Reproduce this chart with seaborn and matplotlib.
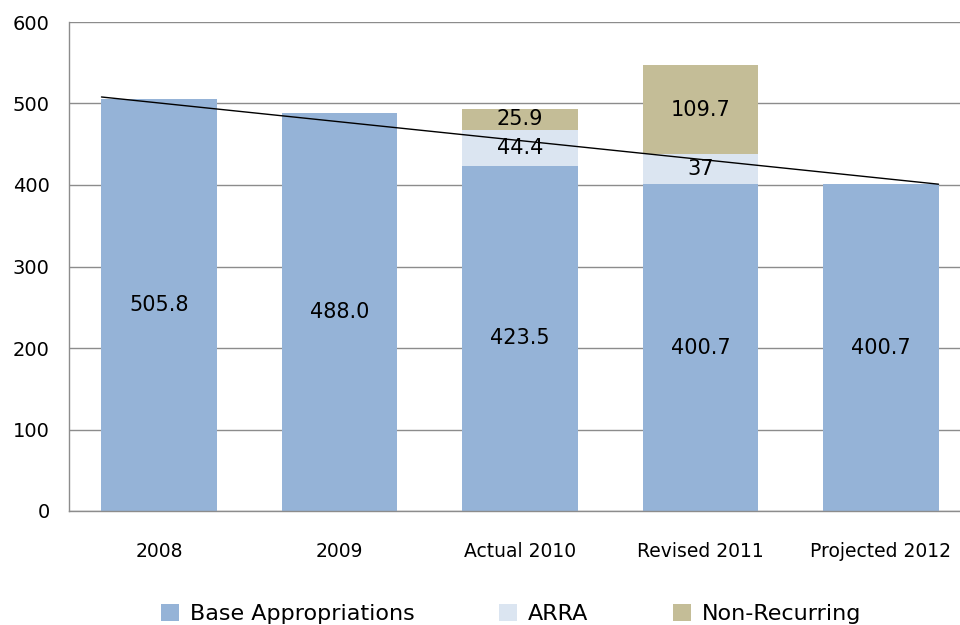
import matplotlib
matplotlib.use("Agg")
import matplotlib.pyplot as plt
import seaborn as sns
import pandas as pd
from matplotlib.patches import Patch
from matplotlib.ticker import FixedLocator

categories = ["2008", "2009", "Actual 2010", "Revised 2011", "Projected 2012"]
base = [505.8, 488.0, 423.5, 400.7, 400.7]
arra = [0, 0, 44.4, 37, 0]
nonrec = [0, 0, 25.9, 109.7, 0]
base_labels = ["505.8", "488.0", "423.5", "400.7", "400.7"]
arra_labels = ["", "", "44.4", "37", ""]
nonrec_labels = ["", "", "25.9", "109.7", ""]
trend_start, trend_end = 508, 401
series_names = ["Base Appropriations", "ARRA", "Non-Recurring"]
colors = ["#95B3D7", "#DBE5F1", "#C4BD97"]

sns.set_style("white")
plt.rcParams['font.family'] = ['DejaVu Sans']
plt.rcParams['text.color'] = 'black'
plt.rcParams['xtick.color'] = 'black'
plt.rcParams['ytick.color'] = 'black'

fig = plt.figure(figsize=(9.6, 6.25), dpi=100)
ax = fig.add_axes([69/960, 114/625, 902/960, 489/625])

df = pd.DataFrame({"cat": categories, "base": base, "arra": arra, "nonrec": nonrec})
df["b2"] = df["base"] + df["arra"]

w = 0.64
sns.barplot(data=df, x="cat", y="base", color=colors[0], width=w, ax=ax,
            saturation=1, linewidth=0, zorder=2)
sns.barplot(data=df, x="cat", y="arra", bottom=df["base"], color=colors[1], width=w,
            ax=ax, saturation=1, linewidth=0, zorder=2)
sns.barplot(data=df, x="cat", y="nonrec", bottom=df["b2"], color=colors[2], width=w,
            ax=ax, saturation=1, linewidth=0, zorder=2)

fs = 15
for i in range(len(categories)):
    ax.text(i, base[i] / 2, base_labels[i], ha="center", va="center", fontsize=fs,
            color="black", zorder=4)
    if arra[i]:
        ax.text(i, base[i] + arra[i] / 2, arra_labels[i], ha="center", va="center",
                fontsize=fs, color="black", zorder=4)
    if nonrec[i]:
        ax.text(i, base[i] + arra[i] + nonrec[i] / 2, nonrec_labels[i], ha="center",
                va="center", fontsize=fs, color="black", zorder=4)

ax.plot([-w / 2, len(categories) - 1 + w / 2], [trend_start, trend_end], color="black",
        lw=1, zorder=3)

ax.set_xlim(-0.5, len(categories) - 0.5)
ax.set_ylim(0, 600)
ax.set_yticks(range(0, 601, 100))
ax.yaxis.grid(True, color="#8C8C8C", lw=1, zorder=0)
ax.set_axisbelow(True)
ax.set_xlabel("")
ax.set_ylabel("")
for s in ["top", "right"]:
    ax.spines[s].set_visible(False)
for s in ["left", "bottom"]:
    ax.spines[s].set_color("#8C8C8C")
    ax.spines[s].set_linewidth(1)
ax.tick_params(axis="y", length=6, color="#8C8C8C", labelsize=14, pad=8, direction="out",
               labelcolor="black")
ax.tick_params(axis="x", which="major", length=0, labelsize=13.5, pad=22, labelcolor="black")
ax.xaxis.set_minor_locator(FixedLocator([i + 0.5 for i in range(-1, len(categories))]))
ax.tick_params(axis="x", which="minor", length=6, color="#8C8C8C", direction="out")

handles = [Patch(facecolor=c, edgecolor="none") for c in colors]
fig.legend(handles, series_names, loc="center", bbox_to_anchor=(511/960, 1 - 614/625),
           ncol=3, frameon=False, fontsize=16, columnspacing=3.8, handlelength=0.8,
           handleheight=0.8, handletextpad=0.5, labelcolor="black")

fig.savefig("out.png", dpi=100)
